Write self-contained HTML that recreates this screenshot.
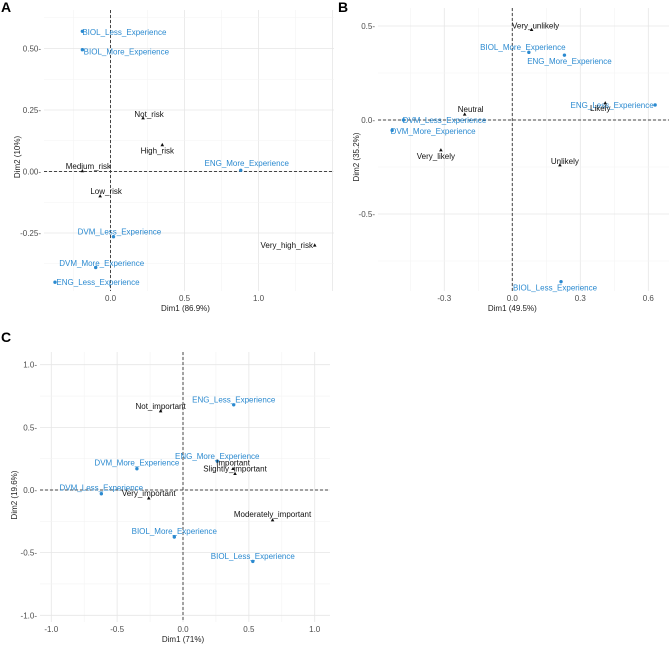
<!DOCTYPE html>
<html><head><meta charset="utf-8"><style>
body{margin:0;background:#fff;font-family:"Liberation Sans",Arial,sans-serif}
svg text{font-family:"Liberation Sans",Arial,sans-serif}
</style></head><body>
<svg id="chart" width="669" height="648" viewBox="0 0 669 648" xmlns="http://www.w3.org/2000/svg"></svg>
<script>
// Panel A data
const aRowNames = ["BIOL_Less_Experience","BIOL_More_Experience","ENG_More_Experience","DVM_Less_Experience","DVM_More_Experience","ENG_Less_Experience"];
const aRowX = [-0.19,-0.19,0.88,0.02,-0.10,-0.375];
const aRowY = [0.57,0.495,0.005,-0.265,-0.39,-0.45];
const aColNames = ["Not_risk","High_risk","Medium_risk","Low_risk","Very_high_risk"];
const aColX = [0.22,0.35,-0.19,-0.07,1.38];
const aColY = [0.217,0.108,0.002,-0.10,-0.30];
const aXTicks = [0.0,0.5,1.0];
const aYTicks = [-0.25,0.00,0.25,0.50];
const aXTickLabels = ["0.0","0.5","1.0"];
const aYTickLabels = ["-0.25","0.00","0.25","0.50"];
// Panel B data
const bRowNames = ["BIOL_More_Experience","ENG_More_Experience","ENG_Less_Experience","DVM_Less_Experience","DVM_More_Experience","BIOL_Less_Experience"];
const bRowX = [0.073,0.23,0.63,-0.48,-0.53,0.215];
const bRowY = [0.36,0.345,0.08,0.0,-0.055,-0.86];
const bColNames = ["Very_unlikely","Neutral","Likely","Very_likely","Unlikely"];
const bColX = [0.085,-0.21,0.41,-0.315,0.21];
const bColY = [0.48,0.03,0.09,-0.16,-0.24];
const bXTicks = [-0.3,0.0,0.3,0.6];
const bYTicks = [-0.5,0.0,0.5];
const bXTickLabels = ["-0.3","0.0","0.3","0.6"];
const bYTickLabels = ["-0.5","0.0","0.5"];
// Panel C data
const cRowNames = ["ENG_Less_Experience","ENG_More_Experience","DVM_More_Experience","DVM_Less_Experience","BIOL_More_Experience","BIOL_Less_Experience"];
const cRowX = [0.385,0.26,-0.35,-0.62,-0.066,0.53];
const cRowY = [0.68,0.23,0.17,-0.03,-0.375,-0.57];
const cColNames = ["Not_important","Important","Slightly_important","Very_important","Moderately_important"];
const cColX = [-0.17,0.38,0.395,-0.26,0.68];
const cColY = [0.63,0.17,0.13,-0.065,-0.24];
const cXTicks = [-1.0,-0.5,0.0,0.5,1.0];
const cYTicks = [-1.0,-0.5,0.0,0.5,1.0];
const cXTickLabels = ["-1.0","-0.5","0.0","0.5","1.0"];
const cYTickLabels = ["-1.0","-0.5","0.0","0.5","1.0"];

// label offsets (pixels, styling only)
const aRowOff=[[42,1],[44,2],[6,-7],[6,-5],[6,-4],[43,0]];
const aColOff=[[6,-4],[-5,6],[6,-5],[6,-5],[-28,0]];
const bRowOff=[[-6,-5],[5,6],[-43,0],[41,0],[41,1],[-6,6]];
const bColOff=[[4,-4],[6,-5],[-5,5],[-5,6],[5,-4]];
const cRowOff=[[0,-5],[0,-5],[0,-6],[0,-6],[0,-6],[0,-5]];
const cColOff=[[0,-5],[0,-6],[0,-5],[0,-5],[0,-6]];

const NS="http://www.w3.org/2000/svg";
const svg=document.getElementById('chart');
function mk(tag,attrs,parent){const e=document.createElementNS(NS,tag);for(const k in attrs)e.setAttribute(k,attrs[k]);(parent||svg).appendChild(e);return e;}
const BLUE="#2b8ad0";

function panel(p){
  const g=mk('g',{});
  
  
  const sx=v=>p.x0+v*p.kx, sy=v=>p.y0-v*p.ky;
  const inv=(px,o,k)=>(px-o)/k;
  // minor grid
  const step=p.xStep/2, ystep=p.yStep/2;
  let xmin=inv(p.L,p.x0,p.kx), xmax=inv(p.R,p.x0,p.kx);
  for(let v=Math.ceil(xmin/step)*step; v<=xmax; v+=step){
    const major=Math.abs(Math.round(v/p.xStep)*p.xStep-v)<1e-6;
    const l=mk('line',{x1:sx(v),x2:sx(v),y1:p.T,y2:p.B,stroke:major?'#e6e6e6':'#f3f3f3','stroke-width':major?0.8:0.6},g);
    
    
  }
  let ymin=(p.y0-p.B)/p.ky, ymax=(p.y0-p.T)/p.ky;
  for(let v=Math.ceil(ymin/ystep)*ystep; v<=ymax; v+=ystep){
    const major=Math.abs(Math.round(v/p.yStep)*p.yStep-v)<1e-6;
    const l=mk('line',{x1:p.L,x2:p.R,y1:sy(v),y2:sy(v),stroke:major?'#e6e6e6':'#f3f3f3','stroke-width':major?0.8:0.6},g);
    
    
  }
  // zero lines
  const zx=mk('line',{x1:sx(0),x2:sx(0),y1:p.T,y2:p.B,stroke:'#444','stroke-width':1,'stroke-dasharray':'3,2'},g);
  
  
  const zy=mk('line',{x1:p.L,x2:p.R,y1:sy(0),y2:sy(0),stroke:'#444','stroke-width':1,'stroke-dasharray':'3,2'},g);
  
  
  // ticks
  p.xt.forEach((v,i)=>{
    const t=mk('text',{x:sx(v),y:p.B+10,'font-size':8,fill:'#4d4d4d','text-anchor':'middle'},g);
    t.textContent=p.xtl[i];
    
    
  });
  p.yt.forEach((v,i)=>{
    const t=mk('text',{x:p.L-3,y:sy(v)+3,'font-size':8,fill:'#4d4d4d','text-anchor':'end'},g);
    t.textContent=p.ytl[i]+'-';
    
    
  });
  // titles
  const xt=mk('text',{x:sx(0)+p.xTitleDx,y:p.B+20,'font-size':8,fill:'#222','text-anchor':'middle'},g);
  xt.textContent=p.xTitle;
  
  
  const yt=mk('text',{x:0,y:0,'font-size':8,fill:'#222','text-anchor':'middle',transform:`translate(${p.yTitleX},${p.yTitleY}) rotate(-90)`},g);
  yt.textContent=p.yTitle;
  
  
  // rows (blue)
  p.rn.forEach((n,i)=>{
    const c=mk('circle',{cx:sx(p.rx[i]),cy:sy(p.ry[i]),r:1.7,fill:BLUE},g);
    
    
    const t=mk('text',{x:sx(p.rx[i])+p.ro[i][0],y:sy(p.ry[i])+p.ro[i][1]+2.8,'font-size':8,fill:BLUE,'text-anchor':'middle'},g);
    t.textContent=n;
    
    
  });
  p.cn.forEach((n,i)=>{
    const x=sx(p.cx[i]),y=sy(p.cy[i]);
    const tr=mk('polygon',{points:`${x},${y-2} ${x-1.8},${y+1.3} ${x+1.8},${y+1.3}`,fill:'#111'},g);
    
    
    const t=mk('text',{x:x+p.co[i][0],y:y+p.co[i][1]+2.8,'font-size':8,fill:'#111','text-anchor':'middle'},g);
    t.textContent=n;
    
    
  });
  const lt=mk('text',{x:p.letX,y:p.letY,'font-size':14,'font-weight':'bold',fill:'#000'},g);
  lt.textContent=p.id;
  
  
}

panel({id:'A',L:44,R:334,T:10,B:291,x0:110.5,kx:148,y0:171.5,ky:246,xStep:0.5,yStep:0.25,
 xt:aXTicks,xtl:aXTickLabels,yt:aYTicks,ytl:aYTickLabels,xTitle:'Dim1 (86.9%)',xTitleDx:75,yTitle:'Dim2 (10%)',yTitleX:20,yTitleY:157,
 rn:aRowNames,rx:aRowX,ry:aRowY,ro:aRowOff,cn:aColNames,cx:aColX,cy:aColY,co:aColOff,letX:1,letY:12});
panel({id:'B',L:378,R:669,T:8,B:291,x0:512.3,kx:226.7,y0:120,ky:188,xStep:0.3,yStep:0.5,
 xt:bXTicks,xtl:bXTickLabels,yt:bYTicks,ytl:bYTickLabels,xTitle:'Dim1 (49.5%)',xTitleDx:0,yTitle:'Dim2 (35.2%)',yTitleX:359,yTitleY:157,
 rn:bRowNames,rx:bRowX,ry:bRowY,ro:bRowOff,cn:bColNames,cx:bColX,cy:bColY,co:bColOff,letX:338,letY:12});
panel({id:'C',L:40,R:330,T:352,B:622,x0:183,kx:131.7,y0:490,ky:125.3,xStep:0.5,yStep:0.5,
 xt:cXTicks,xtl:cXTickLabels,yt:cYTicks,ytl:cYTickLabels,xTitle:'Dim1 (71%)',xTitleDx:0,yTitle:'Dim2 (19.6%)',yTitleX:17,yTitleY:495,
 rn:cRowNames,rx:cRowX,ry:cRowY,ro:cRowOff,cn:cColNames,cx:cColX,cy:cColY,co:cColOff,letX:1,letY:342});
</script>
</body></html>
